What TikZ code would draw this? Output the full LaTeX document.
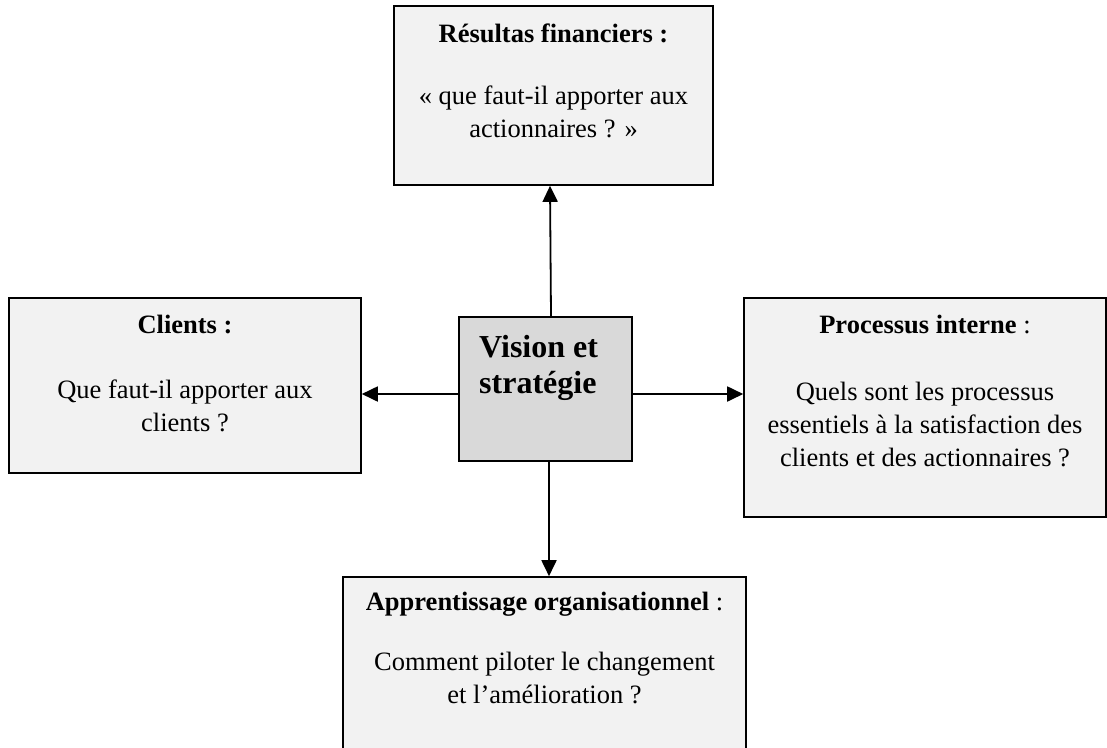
\documentclass[tikz,border=0pt]{standalone}
\usepackage{fontspec}
\setmainfont{Liberation Serif}
\usetikzlibrary{arrows.meta}
\definecolor{panelfill}{HTML}{F2F2F2}
\definecolor{corefill}{HTML}{D9D9D9}
\begin{document}
\begin{tikzpicture}[x=1pt,y=-1pt,
  panel/.style={draw=black, line width=1.6pt, fill=panelfill, inner sep=0pt},
  core/.style={panel, fill=corefill},
  boxtext/.style={anchor=base, inner sep=0pt, font=\fontsize{26.5}{33}\selectfont},
  coretext/.style={anchor=base west, inner sep=0pt, font=\fontsize{32}{36}\selectfont\bfseries},
  link/.style={line width=1.8pt, -{Triangle[length=16pt,width=15pt]}}]
\path[use as bounding box, clip] (0,0) rectangle (1107,747);

% frames
\node[panel, minimum width=319pt, minimum height=179pt] (fin) at (553.5,95.5) {};
\node[core,  minimum width=173pt, minimum height=144pt] (vis) at (545.5,389) {};
\node[panel, minimum width=352pt, minimum height=175pt] (cli) at (185,385.5) {};
\node[panel, minimum width=362pt, minimum height=219pt] (proc) at (925,407.5) {};
\node[panel, minimum width=403pt, minimum height=200pt] (app) at (544.5,677) {};

% contents
\node[boxtext] (fintxt) at (553.5,42) {\parbox[t]{360pt}{\centering
  \textbf{Résultas financiers :}\\[29pt]
  « que faut-il apporter aux\\
  actionnaires ? »}};
\node[coretext] (vistxt) at (479,357) {\parbox[t]{150pt}{\raggedright
  Vision et\\
  stratégie}};
\node[boxtext] (clitxt) at (185,333) {\parbox[t]{360pt}{\centering
  \textbf{Clients :}\\[32pt]
  Que faut-il apporter aux\\
  clients ?}};
\node[boxtext] (proctxt) at (925,333) {\parbox[t]{360pt}{\centering
  \textbf{Processus interne} :\\[34pt]
  Quels sont les processus\\
  essentiels à la satisfaction des\\
  clients et des actionnaires ?}};
\node[boxtext] (apptxt) at (544.5,610) {\parbox[t]{400pt}{\centering
  \textbf{Apprentissage organisationnel} :\\[27pt]
  Comment piloter le changement\\
  et l’amélioration ?}};

% connectors
\draw[link] ([xshift=5.5pt]vis.north) -- ([xshift=-3.5pt]fin.south);
\draw[link] ([yshift=-5pt]vis.west) -- ([yshift=-8.5pt]cli.east);
\draw[link] ([yshift=-5pt]vis.east) -- ([yshift=13.5pt]proc.west);
\draw[link] ([xshift=3.5pt]vis.south) -- ([xshift=4.5pt]app.north);
\end{tikzpicture}
\end{document}
